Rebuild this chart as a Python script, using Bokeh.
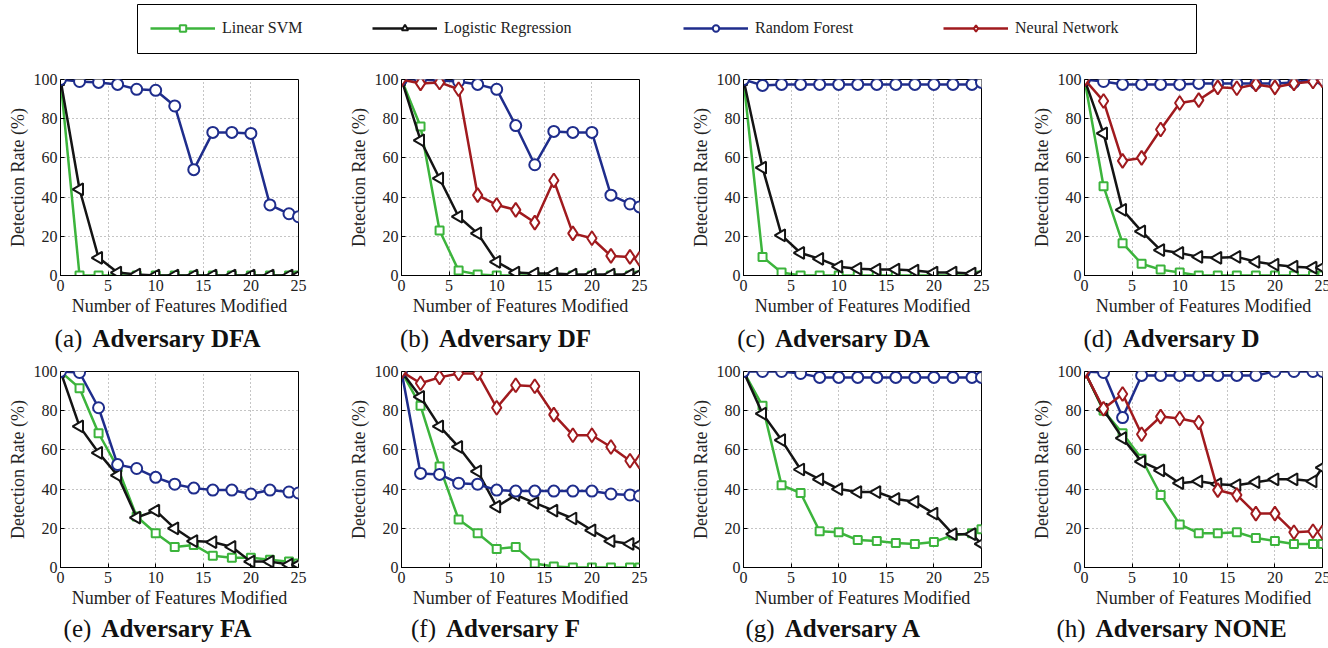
import math
from bokeh.plotting import figure
from bokeh.models import Label, Legend, LegendItem, FixedTicker, Range1d, ColumnDataSource
from bokeh.layouts import column, row
from bokeh.core.properties import value
from bokeh.embed import file_html
from bokeh.resources import INLINE

# ---------------- data ----------------
features = [0, 2, 4, 6, 8, 10, 12, 14, 16, 18, 20, 22, 24, 25]
x_ticks = [0, 5, 10, 15, 20, 25]
y_ticks = [0, 20, 40, 60, 80, 100]
series_names = ["Linear SVM", "Logistic Regression", "Random Forest", "Neural Network"]

# (a) Adversary DFA
svm_dfa = [100, 0, 0, 0, 0, 0, 0, 0, 0, 0, 0, 0, 0, 0]
lr_dfa = [100, 44, 9, 1.5, 0.5, 0, 0, 0, 0, 0, 0, 0, 0, 0]
rf_dfa = [100, 99, 98.5, 97.5, 95, 94.5, 86.5, 54, 73, 73, 72.5, 36, 31.5, 30]

# (b) Adversary DF
svm_df = [100, 76, 23, 2.5, 0.5, 0, 0, 0, 0, 0, 0, 0, 0, 0]
lr_df = [100, 69, 49.5, 30, 21.5, 7, 1.5, 1, 1, 0.5, 0.5, 0.5, 0.5, 0.5]
rf_df = [100, 100, 99.5, 99, 97.5, 95, 76.5, 56.5, 73.5, 73, 73, 41, 36.5, 35]
nn_df = [100, 98, 98.5, 95, 41, 36, 33.5, 27, 48.5, 21.5, 19, 10, 9.5, 8.5]

# (c) Adversary DA
svm_da = [100, 9.5, 1.5, 0, 0, 0, 0, 0, 0, 0, 0, 0, 0, 0]
lr_da = [100, 55, 20.5, 11.5, 8.5, 4.5, 3.5, 3, 3, 2.5, 1.5, 1.5, 1, 0.5]
rf_da = [100, 97, 97.5, 97.5, 97.5, 97.5, 97.5, 97.5, 97.5, 97.5, 97.5, 97.5, 97.5, 98.5]

# (d) Adversary D
svm_d = [100, 45.5, 16.5, 6, 3, 1.5, 0, 0, 0, 0, 0, 0, 0, 0]
lr_d = [100, 72.5, 33.5, 22.5, 13, 11.5, 9.5, 9, 9.5, 7, 5.5, 4.5, 4, 4]
rf_d = [100, 99, 97.5, 97.5, 97.5, 97.5, 98, 98, 98, 98, 98, 98.5, 100, 100]
nn_d = [100, 89, 58.5, 60, 74.5, 88, 89.5, 96, 95.5, 97.5, 96, 98, 99, 99.5]

# (e) Adversary FA
svm_fa = [100, 91.5, 68.5, 51, 26, 17.5, 10.5, 11.5, 6, 5, 5, 4, 3, 2]
lr_fa = [100, 72, 58.5, 47, 25.5, 29, 20, 13.5, 13, 10.5, 3, 3, 1.5, 1.5]
rf_fa = [100, 99.5, 81.5, 52.5, 50.5, 46, 42.5, 40.5, 39.5, 39.5, 37.5, 39.5, 38.5, 38]

# (f) Adversary F
svm_f = [100, 82.5, 51.5, 24.5, 17.5, 9.5, 10.5, 2, 0.5, 0, 0, 0, 0, 0]
lr_f = [100, 87, 72, 61.5, 49, 31, 37, 33, 29, 25, 19, 13.5, 12, 11.5]
rf_f = [100, 48, 47.5, 43, 42.5, 39.5, 39, 39, 39, 39, 39, 37.5, 37, 36.5]
nn_f = [100, 94, 97, 99, 99, 81.5, 93, 92.5, 78, 67.5, 67.5, 61.5, 54.5, 54]

# (g) Adversary A
svm_a = [100, 82.5, 42, 38, 18.5, 18, 14, 13.5, 12.5, 12, 13, 16.5, 17.5, 19.5]
lr_a = [100, 78.5, 65, 50, 45, 40, 38.5, 38.5, 35, 33.5, 27.5, 17, 17, 12]
rf_a = [100, 100, 100, 99, 97, 97, 97, 97, 97, 97, 97, 97, 97, 97]

# (h) Adversary NONE
svm_none = [100, 80, 68.5, 55.5, 37, 22, 17.5, 17.5, 18, 15, 13.5, 12, 12, 12]
lr_none = [100, 80.5, 66, 54, 49.5, 43, 44, 42.5, 42, 43.5, 45, 45, 44, 51]
rf_none = [100, 99.5, 76.5, 98, 98, 98, 98, 98, 98, 98, 100, 100, 100, 100]
nn_none = [100, 81, 88.5, 68, 77, 76, 74, 39.5, 37, 27.5, 27.5, 18, 18.5, 18]

panel_letters = ["a", "b", "c", "d", "e", "f", "g", "h"]
panel_names = ["DFA", "DF", "DA", "D", "FA", "F", "A", "NONE"]

# ---------------- styling ----------------
FONT = "Liberation Serif"
COLORS = ["#3cb43c", "#141414", "#1f2d8c", "#a01a1e"]
MARKERS = ["square", "triangle", "circle", "diamond"]
SIZES = [8, 12, 11, 14]
ANGLES = [0, math.pi / 2, 0, 0]

# Times metrics (per 1000 em) for centring captions
ROMAN = {"(": 333, ")": 333, "a": 444, "b": 500, "c": 444, "d": 500, "e": 444,
         "f": 333, "g": 500, "h": 500}
BOLD = {"A": 722, "d": 556, "v": 500, "e": 444, "r": 444, "s": 389, "a": 500,
        "y": 500, "D": 722, "F": 611, "N": 722, "O": 778, "E": 667, " ": 250}
CAP_SIZE = 25


def twidth(s, table):
    return sum(table.get(ch, 500) for ch in s) * CAP_SIZE / 1000.0


def make_panel(svm, lr, rf, nn, left, right, top, bottom):
    p = figure(frame_width=238, frame_height=196,
               min_border_left=left, min_border_right=right,
               min_border_top=top, min_border_bottom=bottom,
               x_range=Range1d(0, 25), y_range=Range1d(0, 100),
               output_backend="svg", toolbar_location=None, tools="")
    p.xaxis.ticker = FixedTicker(ticks=x_ticks)
    p.yaxis.ticker = FixedTicker(ticks=y_ticks)
    p.xaxis.axis_label = "Number of Features Modified"
    p.yaxis.axis_label = "Detection Rate (%)"
    for ax in p.axis:
        ax.axis_label_text_font = FONT
        ax.axis_label_text_font_size = "18px"
        ax.axis_label_text_font_style = "normal"
        ax.axis_label_text_color = "#222222"
        ax.major_label_text_font = FONT
        ax.major_label_text_font_size = "16px"
        ax.major_label_text_color = "#222222"
        ax.major_tick_in = 4
        ax.major_tick_out = 0
        ax.minor_tick_line_color = None
        ax.axis_line_color = "black"
        ax.major_tick_line_color = "black"
    p.xaxis.major_label_standoff = 4
    p.xaxis.axis_label_standoff = 2
    p.yaxis.major_label_standoff = 3
    p.yaxis.axis_label_standoff = 3
    p.grid.grid_line_color = "#8a8a8a"
    p.grid.grid_line_dash = "1 3"
    p.grid.grid_line_width = 1
    p.outline_line_color = "black"
    p.outline_line_alpha = 1
    p.outline_line_width = 1

    for k, ys in enumerate([svm, lr, rf, nn]):
        if ys is None:
            continue
        src = ColumnDataSource(dict(x=features, y=ys))
        p.line("x", "y", source=src, line_color=COLORS[k], line_width=2.5)
        p.scatter("x", "y", source=src, marker=MARKERS[k], size=SIZES[k],
                  angle=ANGLES[k], line_color=COLORS[k], line_width=2,
                  fill_color="white")
    return p


def make_caption(idx, width, height, left, ypos):
    c = figure(frame_width=width, frame_height=height, min_border=0,
               min_border_left=0, min_border_right=0,
               min_border_top=0, min_border_bottom=0,
               x_range=Range1d(0, 1), y_range=Range1d(0, 1),
               x_axis_location=None, y_axis_location=None,
               output_backend="svg", toolbar_location=None, tools="")
    c.grid.visible = False
    c.outline_line_color = None
    t1 = "(" + panel_letters[idx] + ")"
    t2 = "Adversary " + panel_names[idx]
    gap = 10
    w1 = twidth(t1, ROMAN)
    w2 = twidth(t2, BOLD)
    total = w1 + gap + w2
    cx = left + 98
    x0 = cx - total / 2
    c.add_layout(Label(x=x0, y=ypos, x_units="screen", y_units="screen", text=t1,
                       text_font=FONT, text_font_size=f"{CAP_SIZE}px",
                       text_align="left", text_baseline="alphabetic",
                       text_color="#111111"))
    c.add_layout(Label(x=x0 + w1 + gap, y=ypos, x_units="screen", y_units="screen",
                       text=t2, text_font=FONT, text_font_size=f"{CAP_SIZE}px",
                       text_font_style="bold", text_align="left",
                       text_baseline="alphabetic", text_color="#111111"))
    return c


data = [
    (svm_dfa, lr_dfa, rf_dfa, None),
    (svm_df, lr_df, rf_df, nn_df),
    (svm_da, lr_da, rf_da, None),
    (svm_d, lr_d, rf_d, nn_d),
    (svm_fa, lr_fa, rf_fa, None),
    (svm_f, lr_f, rf_f, nn_f),
    (svm_a, lr_a, rf_a, None),
    (svm_none, lr_none, rf_none, nn_none),
]

lefts = [60, 52, 52, 53]
rights = [47, 48, 47, 17]

panels1, caps1, panels2, caps2 = [], [], [], []
for i in range(4):
    w = lefts[i] + 238 + rights[i]
    panels1.append(make_panel(*data[i], lefts[i], rights[i], 23, 47))
    caps1.append(make_caption(i, w, 33, lefts[i], 17))
    panels2.append(make_panel(*data[i + 4], lefts[i], rights[i], 16, 47))
    caps2.append(make_caption(i + 4, w, 34, lefts[i], 20))

# ---------------- legend box ----------------
leg = figure(frame_width=1059, frame_height=49, min_border_left=137, min_border_right=132,
             min_border_top=4, min_border_bottom=3,
             x_range=Range1d(0, 1), y_range=Range1d(-1000, -999),
             x_axis_location=None, y_axis_location=None,
             output_backend="svg", toolbar_location=None, tools="")
leg.grid.visible = False
leg.outline_line_color = "black"
leg.outline_line_alpha = 1
leg.outline_line_width = 1

legend_x = [13, 235, 546, 806]
legend_data = [svm_df, lr_df, rf_df, nn_df]
for k, name in enumerate(series_names):
    src = ColumnDataSource(dict(x=features, y=legend_data[k]))
    r1 = leg.line("x", "y", source=src, line_color=COLORS[k], line_width=2.5)
    r2 = leg.scatter("x", "y", source=src, marker=MARKERS[k], size=SIZES[k],
                     angle=ANGLES[k], line_color=COLORS[k], line_width=2,
                     fill_color="white")
    lg = Legend(items=[LegendItem(label=value(name), renderers=[r1, r2])],
                location=(legend_x[k], 16), orientation="horizontal",
                glyph_width=65, glyph_height=16, label_standoff=7,
                padding=0, margin=0, border_line_color=None,
                background_fill_alpha=0, label_text_font=FONT,
                label_text_font_size="16px", label_height=16,
                label_text_color="#222222")
    leg.add_layout(lg)

layout = column(leg, row(*panels1), row(*caps1), row(*panels2), row(*caps2))

open("out.html", "w").write(file_html(layout, INLINE))
